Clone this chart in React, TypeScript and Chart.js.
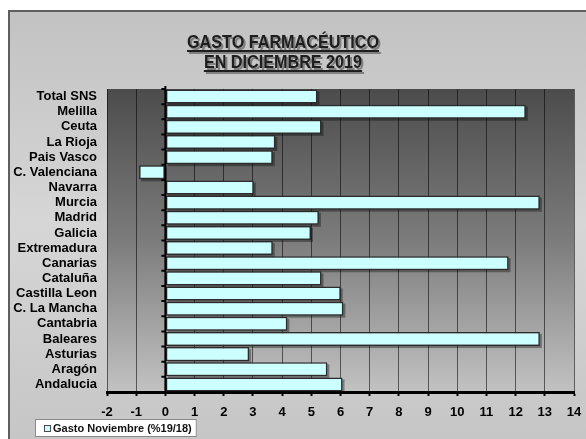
import React, { useEffect, useRef } from 'react';
import { Chart, registerables } from 'chart.js';

Chart.register(...registerables);

const categories = [
  'Total SNS', 'Melilla', 'Ceuta', 'La Rioja', 'Pais Vasco', 'C. Valenciana', 'Navarra',
  'Murcia', 'Madrid', 'Galicia', 'Extremadura', 'Canarias', 'Cataluña', 'Castilla Leon',
  'C. La Mancha', 'Cantabria', 'Baleares', 'Asturias', 'Aragón', 'Andalucia',
];
const gastoNoviembre = [
  5.21, 12.35, 5.35, 3.77, 3.68, -0.9, 3.03,
  12.83, 5.26, 4.99, 3.68, 11.76, 5.35, 6.01,
  6.1, 4.18, 12.83, 2.87, 5.55, 6.07,
];
const titleLines = ['GASTO FARMACÉUTICO', 'EN DICIEMBRE 2019'];
const seriesLabel = 'Gasto Noviembre (%19/18)';
const xMin = -2;
const xMax = 14;

const FONT = '"Liberation Sans", Arial, sans-serif';

const backgroundPlugin = {
  id: 'bgPlugin',
  beforeDraw(chart: any) {
    const { ctx, width, height, chartArea } = chart;
    ctx.save();
    ctx.fillStyle = '#ffffff';
    ctx.fillRect(0, 0, width, height);
    const g = ctx.createLinearGradient(0, 10, 0, height);
    g.addColorStop(0, '#c2c2c2');
    g.addColorStop(0.5, '#d6d6d6');
    g.addColorStop(1, '#c6c6c6');
    ctx.fillStyle = g;
    ctx.fillRect(8, 10, width - 8, height - 10);
    ctx.fillStyle = '#5f5f5f';
    ctx.fillRect(8, 10, width - 8, 2);
    ctx.fillRect(8, 10, 2, height - 10);
    const { left, top, right, bottom } = chartArea;
    const pg = ctx.createLinearGradient(0, top, 0, bottom);
    pg.addColorStop(0, '#4c4c4c');
    pg.addColorStop(0.5, '#7c7c7c');
    pg.addColorStop(1, '#c2c2c2');
    ctx.fillStyle = pg;
    ctx.fillRect(left, top, right - left, bottom - top);
    ctx.restore();
  },
};

const titlePlugin = {
  id: 'titlePlugin',
  afterDraw(chart: any) {
    const { ctx } = chart;
    ctx.save();
    ctx.font = `bold 19px ${FONT}`;
    const w0 = ctx.measureText(titleLines[0]).width;
    const sx = 192 / w0;
    const cx = 283;
    const baselines = [48, 68];
    titleLines.forEach((line, i) => {
      const w = ctx.measureText(line).width * sx;
      const x = cx - w / 2;
      const y = baselines[i];
      const drawAt = (dx: number, dy: number, color: string) => {
        ctx.save();
        ctx.translate(x + dx, y + dy);
        ctx.scale(sx, 1);
        ctx.fillStyle = color;
        ctx.textBaseline = 'alphabetic';
        ctx.textAlign = 'left';
        ctx.fillText(line, 0, 0);
        ctx.restore();
        ctx.fillStyle = color;
        ctx.fillRect(x + dx, y + dy + 2, w, 2);
      };
      drawAt(2, 2, 'rgba(80,80,80,0.6)');
      drawAt(0, 0, '#1e1e1e');
    });
    ctx.restore();
  },
};

const legendPlugin = {
  id: 'legendPlugin',
  afterDraw(chart: any) {
    const { ctx } = chart;
    ctx.save();
    ctx.font = `bold 11px ${FONT}`;
    const tx = 53;
    const tw = ctx.measureText(seriesLabel).width;
    const bx = 35, by = 419, bh = 18;
    const bw = tx + tw + 5 - bx;
    ctx.fillStyle = '#ffffff';
    ctx.fillRect(bx, by, bw, bh);
    ctx.strokeStyle = '#8a8a8a';
    ctx.lineWidth = 1;
    ctx.strokeRect(bx + 0.5, by + 0.5, bw - 1, bh - 1);
    ctx.fillStyle = '#ccffff';
    ctx.fillRect(44, 425, 6, 6);
    ctx.strokeStyle = '#4a4a4a';
    ctx.strokeRect(44.5, 425.5, 6, 6);
    ctx.fillStyle = '#111111';
    ctx.textBaseline = 'middle';
    ctx.textAlign = 'left';
    ctx.fillText(seriesLabel, tx, 429);
    ctx.restore();
  },
};

const shadowPlugin = {
  id: 'shadowPlugin',
  beforeDatasetsDraw(chart: any) {
    const { ctx } = chart;
    const meta = chart.getDatasetMeta(0);
    ctx.save();
    ctx.fillStyle = 'rgba(0,0,0,0.35)';
    meta.data.forEach((bar: any) => {
      const p = bar.getProps(['x', 'y', 'base', 'height'], true);
      const l = Math.min(p.x, p.base);
      const r = Math.max(p.x, p.base);
      ctx.fillRect(l + 2, p.y - p.height / 2 + 2, r - l, p.height);
    });
    ctx.restore();
  },
  afterDatasetsDraw(chart: any) {
    const { ctx, chartArea, scales } = chart;
    const x0 = scales.x.getPixelForValue(0);
    ctx.save();
    ctx.strokeStyle = '#000';
    ctx.lineWidth = 2;
    ctx.beginPath();
    ctx.moveTo(x0, chartArea.top - 3);
    ctx.lineTo(x0, chartArea.bottom);
    ctx.stroke();
    const n = categories.length;
    const step = (chartArea.bottom - chartArea.top) / n;
    ctx.beginPath();
    for (let i = 0; i <= n; i++) {
      const y = chartArea.top + i * step;
      ctx.moveTo(x0 - 4, y);
      ctx.lineTo(x0, y);
    }
    ctx.stroke();
    ctx.restore();
  },
};

export default function App() {
  const ref = useRef<HTMLCanvasElement>(null);
  useEffect(() => {
    document.body.style.margin = '0';
    document.body.style.overflow = 'hidden';
    const canvas = ref.current!;
    const chart = new Chart(canvas, {
      type: 'bar',
      data: {
        labels: categories,
        datasets: [
          {
            label: seriesLabel,
            data: gastoNoviembre,
            backgroundColor: '#ccffff',
            borderColor: '#2b2b2b',
            borderWidth: 1.5,
            borderSkipped: false,
            barPercentage: 0.93,
            categoryPercentage: 1,
          },
        ],
      },
      options: {
        indexAxis: 'y',
        animation: false,
        responsive: false,
        devicePixelRatio: 1,
        layout: { padding: { left: 0, right: 12, top: 89, bottom: 0 } },
        plugins: {
          legend: { display: false },
          title: { display: false },
          tooltip: { enabled: false },
        },
        scales: {
          x: {
            type: 'linear',
            min: xMin,
            max: xMax,
            ticks: {
              stepSize: 1,
              color: '#000',
              padding: 9,
              maxRotation: 0,
              font: { family: FONT, size: 13, weight: 'bold' },
            },
            grid: {
              color: (c: any) => (c.tick && c.tick.value === 0 ? '#000' : 'rgba(0,0,0,0.55)'),
              lineWidth: 1,
              tickColor: '#000',
              tickLength: 4,
              tickWidth: 2,
            },
            border: { display: true, color: '#000', width: 3 },
            afterFit: (s: any) => {
              s.height = 47;
              s.paddingLeft = 0;
              s.paddingRight = 0;
            },
          },
          y: {
            type: 'category',
            ticks: {
              color: '#000',
              padding: 10,
              autoSkip: false,
              font: { family: FONT, size: 13, weight: 'bold' },
            },
            grid: { display: false, drawTicks: false },
            border: { display: false },
            afterFit: (s: any) => {
              s.width = 107;
              s.paddingTop = 0;
              s.paddingBottom = 0;
            },
          },
        },
      } as any,
      plugins: [backgroundPlugin, shadowPlugin, titlePlugin, legendPlugin],
    });
    return () => chart.destroy();
  }, []);
  return (
    <canvas
      ref={ref}
      width={586}
      height={439}
      style={{ display: 'block', width: 586, height: 439 }}
    />
  );
}
